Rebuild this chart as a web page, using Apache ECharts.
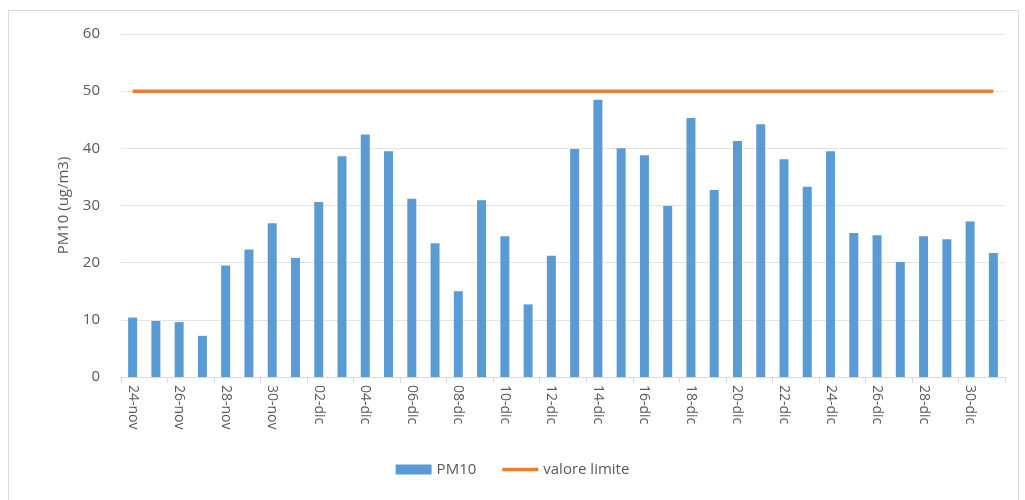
<!DOCTYPE html>
<html>
<head>
<meta charset="utf-8">
<script src="https://cdn.jsdelivr.net/npm/echarts@6/dist/echarts.min.js"></script>
<style>
  html, body { margin: 0; padding: 0; background: #fff; }
  #chart { width: 1025px; height: 500px; }
</style>
</head>
<body>
<div id="chart"></div>
<script>
// giorni (24-nov .. 31-dic)
const days = [
  '24-nov', '25-nov', '26-nov', '27-nov', '28-nov', '29-nov', '30-nov',
  '01-dic', '02-dic', '03-dic', '04-dic', '05-dic', '06-dic', '07-dic', '08-dic', '09-dic',
  '10-dic', '11-dic', '12-dic', '13-dic', '14-dic', '15-dic', '16-dic', '17-dic', '18-dic',
  '19-dic', '20-dic', '21-dic', '22-dic', '23-dic', '24-dic', '25-dic', '26-dic', '27-dic',
  '28-dic', '29-dic', '30-dic', '31-dic'
];
// PM10 giornaliero (ug/m3)
const pm10 = [
  10.4, 9.8, 9.6, 7.2, 19.5, 22.3, 26.9, 20.8, 30.6, 38.6, 42.4, 39.5, 31.2,
  23.4, 15.0, 30.9, 24.6, 12.7, 21.2, 39.9, 48.5, 40.0, 38.8, 29.9, 45.3,
  32.7, 41.3, 44.2, 38.1, 33.3, 39.5, 25.2, 24.8, 20.1, 24.6, 24.1, 27.2, 21.7
];
const limitValue = 50;
const limite = days.map(() => limitValue);
const yTicks = [0, 10, 20, 30, 40, 50, 60];

const myChart = echarts.init(document.getElementById('chart'));
const font = 'Open Sans';

const option = {
  animation: false,
  textStyle: { fontFamily: font },
  graphic: [{
    type: 'rect',
    shape: { x: 8.5, y: 10.5, width: 1010, height: 500 },
    style: { fill: 'none', stroke: '#d9d9d9', lineWidth: 1 }
  }],
  grid: { left: 121, right: 20, top: 34, bottom: 123 },
  legend: {
    bottom: 18,
    left: 'center',
    itemWidth: 36,
    itemHeight: 10,
    itemGap: 26,
    textStyle: { color: '#595959', fontSize: 15, fontFamily: font },
    data: [
      { name: 'PM10', icon: 'rect' },
      { name: 'valore limite', icon: 'path://M0,0H36V3.5H0Z' }
    ]
  },
  xAxis: {
    type: 'category',
    data: days,
    boundaryGap: true,
    axisLine: { lineStyle: { color: '#d9d9d9', width: 1 } },
    axisTick: { show: true, interval: 1, length: 6, lineStyle: { color: '#d9d9d9' } },
    axisLabel: {
      interval: 1,
      rotate: -90,
      color: '#595959',
      fontSize: 14,
      margin: 8,
      fontFamily: font
    }
  },
  yAxis: {
    type: 'value',
    min: yTicks[0],
    max: yTicks[yTicks.length - 1],
    interval: 10,
    name: 'PM10 (ug/m3)',
    nameLocation: 'middle',
    nameGap: 50,
    nameTextStyle: { color: '#595959', fontSize: 15, fontFamily: font },
    axisLine: { show: false },
    axisTick: { show: false },
    axisLabel: { color: '#595959', fontSize: 15, margin: 21, fontFamily: font },
    splitLine: { lineStyle: { color: '#e3e3e3', width: 1 } }
  },
  series: [
    {
      name: 'PM10',
      type: 'bar',
      data: pm10,
      barWidth: 9,
      itemStyle: { color: '#5b9bd5' }
    },
    {
      name: 'valore limite',
      type: 'line',
      data: limite,
      symbol: 'none',
      lineStyle: { color: '#ed7d31', width: 3.5 },
      itemStyle: { color: '#ed7d31' }
    }
  ]
};

myChart.setOption(option);
window.addEventListener('resize', () => {
  myChart.resize();
});
</script>
</body>
</html>
